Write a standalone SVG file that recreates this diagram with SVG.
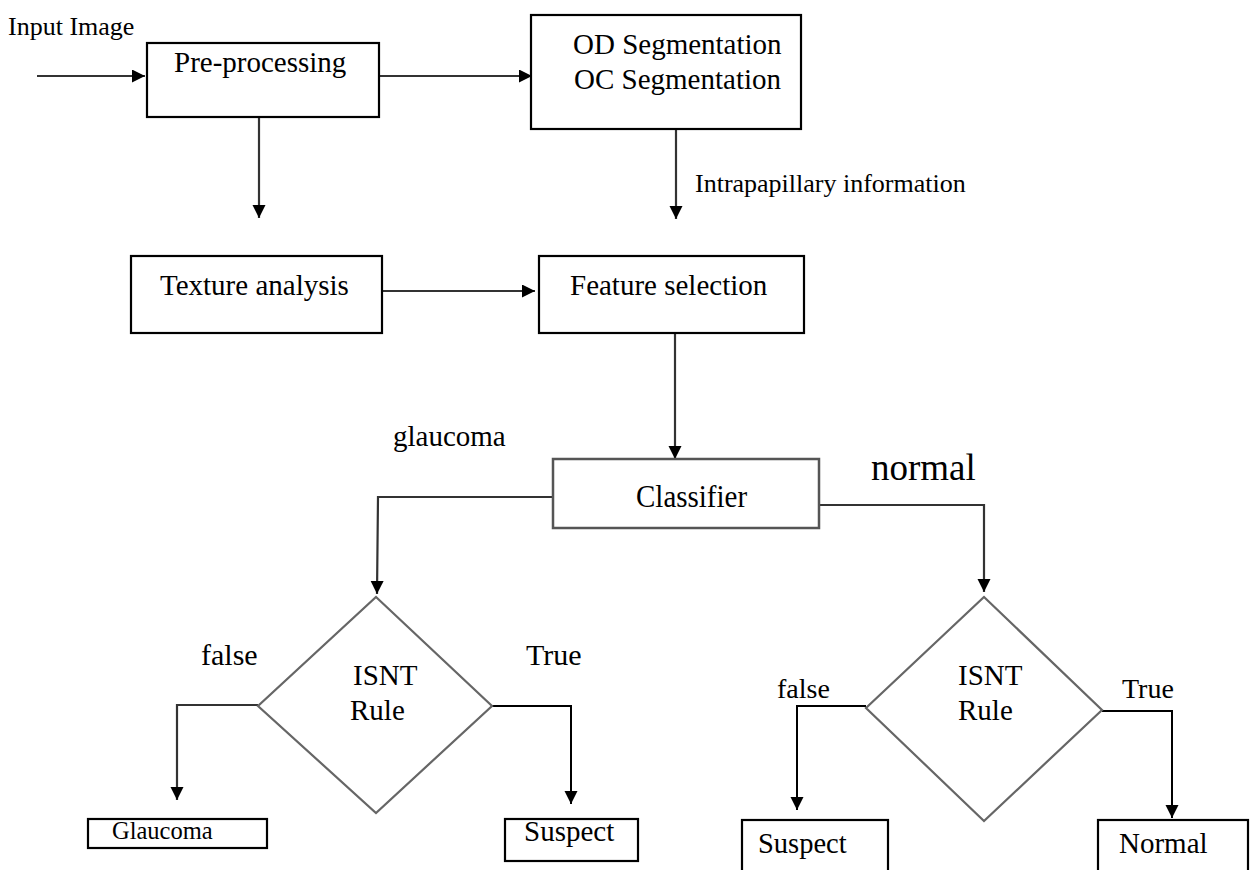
<svg xmlns="http://www.w3.org/2000/svg" width="1254" height="870" viewBox="0 0 1254 870">
<style>
text{font-family:"Liberation Serif","Times New Roman",serif;fill:#000}
.box{fill:#fff;stroke:#000;stroke-width:2.2}
.gbox{fill:#fff;stroke:#555;stroke-width:2.5}
.dia{fill:#fff;stroke:#666;stroke-width:2.2}
.c{fill:none;stroke:#333;stroke-width:2.2}
.k{fill:none;stroke:#000;stroke-width:2}
</style>
<defs>
<marker id="ah" markerUnits="userSpaceOnUse" markerWidth="14" markerHeight="14" refX="13" refY="6.5" orient="auto">
<path d="M0,0 L13,6.5 L0,13 z" fill="#000"/>
</marker>
</defs>
<rect width="1254" height="870" fill="#fff"/>
<g id="connectors">
<line class="c" x1="37" y1="76" x2="145" y2="76" marker-end="url(#ah)"/>
<line class="c" x1="377" y1="76" x2="532" y2="76" marker-end="url(#ah)"/>
<line class="c" x1="259" y1="78" x2="259" y2="218" marker-end="url(#ah)"/>
<line class="c" x1="676" y1="93" x2="676" y2="219" marker-end="url(#ah)"/>
<line class="c" x1="378" y1="291" x2="535" y2="291" marker-end="url(#ah)"/>
<line class="c" x1="675" y1="333" x2="675" y2="459" marker-end="url(#ah)"/>
<polyline class="c" points="553,497 378,497 377,594" marker-end="url(#ah)"/>
<polyline class="c" points="819,505 984,505 984,592" marker-end="url(#ah)"/>
<polyline class="c" points="258,705 177,705 177,800" marker-end="url(#ah)"/>
<polyline class="k" points="492,706 571,706 571,804" marker-end="url(#ah)"/>
<polyline class="k" points="866,706 797,706 797,810" marker-end="url(#ah)"/>
<polyline class="k" points="1102,711 1172,711 1172,818" marker-end="url(#ah)"/>
</g>
<g id="input-label"><text x="8" y="35" font-size="26">Input Image</text></g>
<g id="preprocessing">
<rect class="box" x="147" y="43" width="232" height="74"/>
<text x="174" y="72" font-size="29">Pre-processing</text>
</g>
<g id="segmentation">
<rect class="box" x="531" y="15" width="270" height="114"/>
<text x="573" y="54" font-size="29">OD Segmentation</text>
<text x="574" y="89" font-size="29">OC Segmentation</text>
</g>
<g id="intrapapillary-label"><text x="695" y="192" font-size="26">Intrapapillary information</text></g>
<g id="texture">
<rect class="box" x="131" y="256" width="251" height="77"/>
<text x="160" y="295" font-size="29">Texture analysis</text>
</g>
<g id="feature">
<rect class="box" x="539" y="256" width="265" height="77"/>
<text x="570" y="295" font-size="29">Feature selection</text>
</g>
<g id="classifier">
<rect class="gbox" x="553" y="459" width="266" height="69"/>
<text transform="translate(636,507) scale(1,1.12)" font-size="29">Classifier</text>
</g>
<g id="glaucoma-label"><text x="393" y="446" font-size="29">glaucoma</text></g>
<g id="normal-label"><text x="871" y="480" font-size="37">normal</text></g>
<g id="isnt-left">
<polygon class="dia" points="376,597 492,706 376,813 258,706"/>
<text x="353" y="685" font-size="29">ISNT</text>
<text x="350" y="720" font-size="29">Rule</text>
</g>
<g id="labels-left">
<text x="201" y="665" font-size="30">false</text>
<text x="526" y="665" font-size="30">True</text>
</g>
<g id="glaucoma-out">
<rect class="box" x="88" y="819" width="179" height="29"/>
<text x="112" y="839" font-size="24.5">Glaucoma</text>
</g>
<g id="suspect-left">
<rect class="box" x="505" y="819" width="133" height="42"/>
<text x="524" y="841" font-size="29">Suspect</text>
</g>
<g id="isnt-right">
<polygon class="dia" points="984,597 1102,710 984,821 866,708"/>
<text x="958" y="685" font-size="29">ISNT</text>
<text x="958" y="720" font-size="29">Rule</text>
</g>
<g id="labels-right">
<text x="777" y="698" font-size="28">false</text>
<text x="1122" y="698" font-size="28">True</text>
</g>
<g id="suspect-right">
<rect class="box" x="742" y="820" width="146" height="60"/>
<text x="758" y="853" font-size="28.5">Suspect</text>
</g>
<g id="normal-out">
<rect class="box" x="1098" y="820" width="150" height="60"/>
<text x="1119" y="853" font-size="29">Normal</text>
</g>
</svg>
